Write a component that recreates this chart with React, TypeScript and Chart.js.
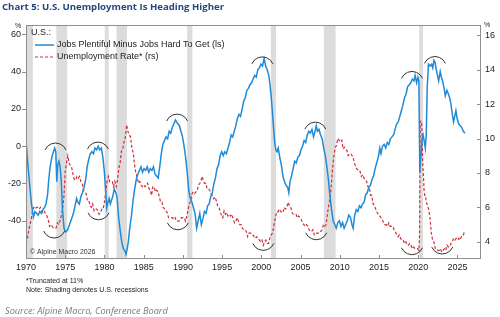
import React, { useEffect, useRef } from "react";
import { Chart, registerables } from "chart.js";

Chart.register(...registerables);

// Labor differential (Conference Board), % – left scale
const blueYears = [
  1970.0, 1970.2, 1970.45, 1970.7, 1970.95, 1971.15, 1971.35, 1971.55, 1971.75, 1971.95,
  1972.15, 1972.35, 1972.55, 1972.75, 1972.9, 1973.05, 1973.2, 1973.35, 1973.5, 1973.65,
  1973.8, 1973.92, 1974.05, 1974.2, 1974.35, 1974.5, 1974.65, 1974.85, 1975.05, 1975.3,
  1975.55, 1975.8, 1976.05, 1976.25, 1976.45, 1976.6, 1976.8, 1977.0, 1977.2, 1977.4,
  1977.6, 1977.8, 1978.0, 1978.2, 1978.4, 1978.6, 1978.8, 1979.0, 1979.2, 1979.4,
  1979.6, 1979.8, 1980.0, 1980.15, 1980.3, 1980.45, 1980.6, 1980.75, 1980.9, 1981.05,
  1981.25, 1981.45, 1981.6, 1981.8, 1982.0, 1982.2, 1982.4, 1982.6, 1982.75, 1982.9,
  1983.05, 1983.25, 1983.45, 1983.65, 1983.85, 1984.05, 1984.25, 1984.45, 1984.65, 1984.85,
  1985.05, 1985.25, 1985.45, 1985.65, 1985.85, 1986.05, 1986.25, 1986.45, 1986.65, 1986.85,
  1987.05, 1987.25, 1987.45, 1987.65, 1987.85, 1988.05, 1988.25, 1988.45, 1988.65, 1988.85,
  1989.05, 1989.2, 1989.35, 1989.55, 1989.75, 1989.95, 1990.15, 1990.35, 1990.55, 1990.75,
  1990.95, 1991.15, 1991.35, 1991.55, 1991.75, 1991.95, 1992.15, 1992.35, 1992.55, 1992.75,
  1992.95, 1993.15, 1993.35, 1993.55, 1993.75, 1993.95, 1994.15, 1994.35, 1994.55, 1994.75,
  1994.95, 1995.15, 1995.35, 1995.55, 1995.75, 1995.95, 1996.15, 1996.35, 1996.55, 1996.75,
  1996.95, 1997.15, 1997.35, 1997.55, 1997.75, 1997.95, 1998.15, 1998.35, 1998.55, 1998.75,
  1998.95, 1999.15, 1999.35, 1999.55, 1999.75, 1999.95, 2000.15, 2000.35, 2000.55, 2000.75,
  2000.95, 2001.1, 2001.25, 2001.4, 2001.55, 2001.7, 2001.85, 2002.0, 2002.15, 2002.35,
  2002.55, 2002.75, 2002.95, 2003.15, 2003.35, 2003.5, 2003.65, 2003.85, 2004.05, 2004.25,
  2004.45, 2004.65, 2004.85, 2005.05, 2005.25, 2005.45, 2005.65, 2005.85, 2006.05, 2006.25,
  2006.45, 2006.65, 2006.85, 2007.0, 2007.15, 2007.35, 2007.55, 2007.75, 2007.95, 2008.15,
  2008.35, 2008.55, 2008.75, 2008.95, 2009.15, 2009.35, 2009.55, 2009.75, 2009.95, 2010.15,
  2010.35, 2010.55, 2010.75, 2010.95, 2011.15, 2011.35, 2011.55, 2011.7, 2011.9, 2012.1,
  2012.3, 2012.5, 2012.7, 2012.9, 2013.1, 2013.3, 2013.5, 2013.7, 2013.9, 2014.1,
  2014.3, 2014.5, 2014.7, 2014.9, 2015.1, 2015.25, 2015.45, 2015.65, 2015.85, 2016.05,
  2016.25, 2016.45, 2016.65, 2016.85, 2017.05, 2017.25, 2017.45, 2017.65, 2017.85, 2018.05,
  2018.25, 2018.45, 2018.65, 2018.85, 2019.05, 2019.25, 2019.45, 2019.6, 2019.8, 2019.95,
  2020.08, 2020.2, 2020.35, 2020.5, 2020.62, 2020.75, 2020.9, 2021.02, 2021.15, 2021.3,
  2021.5, 2021.7, 2021.85, 2022.0, 2022.15, 2022.3, 2022.45, 2022.6, 2022.8, 2022.95,
  2023.1, 2023.3, 2023.45, 2023.65, 2023.85, 2024.0, 2024.15, 2024.35, 2024.5, 2024.65,
  2024.8, 2024.95, 2025.15, 2025.35, 2025.55, 2025.75, 2025.95,
];
const blueValues = [
  3, -8, -20, -31, -38, -35, -36, -37, -35, -36,
  -34, -33, -31, -26, -18, -12, -8, -5, -3, -1,
  -3, -19, -10, -8, -11, -19, -34, -44, -46, -45,
  -42, -39, -36, -32, -28, -30, -31, -27, -25, -22,
  -18, -11, -7, -4, -3, -4, -1, -2, 0, -2,
  -1, -6, -14, -24, -33, -30, -28, -31, -29, -27,
  -23, -25, -27, -38, -45, -51, -55, -56, -58, -55,
  -51, -43, -37, -29, -23, -18, -15, -13, -11, -14,
  -12, -13, -11, -14, -12, -13, -11, -15, -16, -17,
  -11, -4, 1, 3, 5, 4, 8, 7, 10, 12,
  14, 13, 12, 11, 8, 5, 0, -6, -14, -24,
  -28, -30, -33, -36, -44, -40, -36, -42, -39, -35,
  -36, -32, -31, -27, -25, -20, -17, -12, -10, -5,
  -3, -5, -3, -4, -1, 2, 6, 5, 8, 11,
  15, 17, 16, 20, 24, 26, 30, 31, 33, 34,
  36, 38, 37, 41, 42, 44, 43, 47, 43, 41,
  38, 33, 27, 19, 10, 2, -2, -3, -1, -6,
  -10, -16, -19, -21, -22, -25, -19, -16, -12, -8,
  -9, -6, -5, -2, 0, 3, 2, 6, 8, 7,
  9, 5, 8, 11, 8, 9, 6, 4, -1, -5,
  -11, -18, -27, -34, -40, -42, -44, -41, -40, -43,
  -41, -44, -42, -40, -37, -38, -42, -44, -37, -34,
  -35, -32, -33, -31, -30, -26, -25, -22, -21, -18,
  -16, -12, -9, -6, -1, -4, 0, 1, -1, 2,
  1, 4, 5, 6, 9, 12, 13, 16, 19, 22,
  26, 28, 32, 33, 34, 36, 35, 38, 34, 37,
  35, -14, -5, 4, 6, 3, -1, 6, 32, 44,
  43, 44, 42, 46, 45, 41, 38, 35, 40, 37,
  35, 31, 27, 30, 28, 26, 23, 17, 13, 16,
  19, 15, 12, 11, 10, 8, 7,
];

// Unemployment rate, % (truncated at 11%) – right scale
const redYears = [
  1970.0, 1970.17, 1970.33, 1970.5, 1970.67, 1970.83, 1971.0, 1971.17, 1971.33, 1971.5,
  1971.67, 1971.83, 1972.0, 1972.17, 1972.33, 1972.5, 1972.67, 1972.83, 1973.0, 1973.17,
  1973.33, 1973.5, 1973.67, 1973.83, 1974.0, 1974.17, 1974.33, 1974.5, 1974.67, 1974.83,
  1975.0, 1975.17, 1975.33, 1975.5, 1975.67, 1975.83, 1976.0, 1976.17, 1976.33, 1976.5,
  1976.67, 1976.83, 1977.0, 1977.17, 1977.33, 1977.5, 1977.67, 1977.83, 1978.0, 1978.17,
  1978.33, 1978.5, 1978.67, 1978.83, 1979.0, 1979.17, 1979.33, 1979.5, 1979.67, 1979.83,
  1980.0, 1980.17, 1980.33, 1980.5, 1980.67, 1980.83, 1981.0, 1981.17, 1981.33, 1981.5,
  1981.67, 1981.83, 1982.0, 1982.17, 1982.33, 1982.5, 1982.67, 1982.83, 1983.0, 1983.17,
  1983.33, 1983.5, 1983.67, 1983.83, 1984.0, 1984.17, 1984.33, 1984.5, 1984.67, 1984.83,
  1985.0, 1985.17, 1985.33, 1985.5, 1985.67, 1985.83, 1986.0, 1986.17, 1986.33, 1986.5,
  1986.67, 1986.83, 1987.0, 1987.17, 1987.33, 1987.5, 1987.67, 1987.83, 1988.0, 1988.17,
  1988.33, 1988.5, 1988.67, 1988.83, 1989.0, 1989.17, 1989.33, 1989.5, 1989.67, 1989.83,
  1990.0, 1990.17, 1990.33, 1990.5, 1990.67, 1990.83, 1991.0, 1991.17, 1991.33, 1991.5,
  1991.67, 1991.83, 1992.0, 1992.17, 1992.33, 1992.45, 1992.58, 1992.75, 1992.92, 1993.08,
  1993.25, 1993.42, 1993.58, 1993.75, 1993.92, 1994.08, 1994.25, 1994.42, 1994.58, 1994.75,
  1994.92, 1995.08, 1995.25, 1995.42, 1995.58, 1995.75, 1995.92, 1996.08, 1996.25, 1996.42,
  1996.58, 1996.75, 1996.92, 1997.08, 1997.25, 1997.42, 1997.58, 1997.75, 1997.92, 1998.08,
  1998.25, 1998.42, 1998.58, 1998.75, 1998.92, 1999.08, 1999.25, 1999.42, 1999.58, 1999.75,
  1999.92, 2000.08, 2000.25, 2000.42, 2000.58, 2000.75, 2000.92, 2001.08, 2001.25, 2001.42,
  2001.58, 2001.75, 2001.92, 2002.08, 2002.25, 2002.42, 2002.58, 2002.75, 2002.92, 2003.08,
  2003.25, 2003.42, 2003.58, 2003.75, 2003.92, 2004.08, 2004.25, 2004.42, 2004.58, 2004.75,
  2004.92, 2005.08, 2005.25, 2005.42, 2005.58, 2005.75, 2005.92, 2006.08, 2006.25, 2006.42,
  2006.58, 2006.75, 2006.92, 2007.08, 2007.25, 2007.42, 2007.58, 2007.75, 2007.92, 2008.08,
  2008.25, 2008.42, 2008.58, 2008.75, 2008.92, 2009.08, 2009.25, 2009.42, 2009.58, 2009.75,
  2009.92, 2010.08, 2010.25, 2010.42, 2010.58, 2010.75, 2010.92, 2011.08, 2011.25, 2011.42,
  2011.58, 2011.75, 2011.92, 2012.08, 2012.25, 2012.42, 2012.58, 2012.75, 2012.92, 2013.08,
  2013.25, 2013.42, 2013.58, 2013.75, 2013.92, 2014.08, 2014.25, 2014.42, 2014.58, 2014.75,
  2014.92, 2015.08, 2015.25, 2015.42, 2015.58, 2015.75, 2015.92, 2016.08, 2016.25, 2016.42,
  2016.58, 2016.75, 2016.92, 2017.08, 2017.25, 2017.42, 2017.58, 2017.75, 2017.92, 2018.08,
  2018.25, 2018.42, 2018.58, 2018.75, 2018.92, 2019.08, 2019.25, 2019.42, 2019.58, 2019.75,
  2019.92, 2020.08, 2020.17, 2020.25, 2020.33, 2020.42, 2020.5, 2020.58, 2020.67, 2020.75,
  2020.83, 2020.92, 2021.0, 2021.17, 2021.33, 2021.5, 2021.67, 2021.83, 2022.0, 2022.17,
  2022.33, 2022.5, 2022.67, 2022.83, 2023.0, 2023.17, 2023.33, 2023.5, 2023.67, 2023.83,
  2024.0, 2024.17, 2024.33, 2024.5, 2024.67, 2024.83, 2025.0, 2025.17, 2025.33, 2025.5,
  2025.67, 2025.83, 2025.95,
];
const redValues = [
  3.9, 4.2, 4.6, 5.0, 5.3, 5.8, 6.0, 5.9, 6.0, 6.0,
  5.9, 6.0, 5.8, 5.7, 5.8, 5.6, 5.5, 5.3, 4.9, 5.0,
  4.9, 4.8, 4.8, 4.8, 5.1, 5.0, 5.2, 5.5, 5.9, 6.6,
  8.1, 8.6, 9.0, 8.6, 8.4, 8.3, 7.9, 7.6, 7.6, 7.8,
  7.7, 7.8, 7.5, 7.4, 7.0, 6.9, 6.8, 6.4, 6.4, 6.1,
  6.0, 6.2, 5.8, 5.9, 5.9, 5.8, 5.6, 5.7, 5.9, 5.9,
  6.3, 6.9, 7.5, 7.8, 7.5, 7.5, 7.5, 7.2, 7.5, 7.2,
  7.6, 8.3, 8.6, 9.3, 9.4, 9.8, 10.1, 10.8, 10.4, 10.2,
  10.1, 9.4, 9.2, 8.5, 8.0, 7.8, 7.4, 7.5, 7.3, 7.2,
  7.3, 7.2, 7.3, 7.4, 7.1, 7.0, 6.7, 7.2, 7.2, 6.9,
  7.0, 6.9, 6.6, 6.3, 6.3, 6.0, 5.9, 5.8, 5.7, 5.4,
  5.4, 5.4, 5.4, 5.3, 5.4, 5.2, 5.2, 5.2, 5.3, 5.4,
  5.4, 5.4, 5.2, 5.5, 5.9, 6.2, 6.4, 6.8, 6.9, 6.8,
  6.9, 7.0, 7.3, 7.4, 7.6, 7.8, 7.6, 7.4, 7.4, 7.1,
  7.1, 7.0, 6.8, 6.7, 6.5, 6.6, 6.4, 6.1, 6.0, 5.8,
  5.5, 5.4, 5.8, 5.6, 5.7, 5.5, 5.6, 5.5, 5.6, 5.3,
  5.1, 5.2, 5.4, 5.2, 5.0, 5.0, 4.8, 4.7, 4.7, 4.6,
  4.3, 4.5, 4.5, 4.5, 4.4, 4.3, 4.2, 4.3, 4.2, 4.1,
  4.0, 4.1, 3.8, 4.0, 4.1, 3.9, 3.9, 4.2, 4.4, 4.5,
  4.9, 5.3, 5.7, 5.7, 5.9, 5.8, 5.7, 5.7, 6.0, 5.9,
  6.0, 6.3, 6.1, 6.0, 5.7, 5.6, 5.6, 5.6, 5.4, 5.5,
  5.4, 5.3, 5.1, 5.0, 4.9, 5.0, 4.9, 4.7, 4.6, 4.6,
  4.7, 4.4, 4.4, 4.5, 4.5, 4.6, 4.6, 4.7, 5.0, 4.9,
  5.0, 5.6, 6.1, 6.5, 7.3, 8.3, 9.0, 9.5, 9.6, 10.0,
  9.9, 9.8, 9.9, 9.4, 9.5, 9.4, 9.3, 9.0, 9.1, 9.1,
  9.0, 8.8, 8.5, 8.3, 8.2, 8.2, 8.1, 7.8, 7.9, 7.7,
  7.6, 7.5, 7.2, 7.2, 6.7, 6.7, 6.2, 6.1, 5.9, 5.7,
  5.6, 5.5, 5.4, 5.3, 5.1, 5.0, 5.0, 4.9, 5.1, 4.9,
  4.9, 4.9, 4.7, 4.6, 4.4, 4.3, 4.4, 4.2, 4.1, 4.1,
  3.9, 4.0, 3.8, 3.8, 3.9, 3.8, 3.6, 3.7, 3.6, 3.6,
  3.6, 3.5, 4.4, 11.0, 11.0, 11.0, 10.2, 8.4, 7.8, 6.9,
  6.7, 6.7, 6.4, 6.1, 5.9, 5.4, 4.5, 4.1, 4.0, 3.6,
  3.6, 3.5, 3.5, 3.6, 3.4, 3.5, 3.6, 3.5, 3.8, 3.7,
  3.7, 3.9, 4.0, 4.2, 4.1, 4.2, 4.1, 4.2, 4.1, 4.3,
  4.3, 4.5, 4.4,
];

// U.S. recessions (shaded)
const recessionStarts = [1969.92, 1973.87, 1980.04, 1981.54, 1990.54, 2001.21, 2007.96, 2020.12];
const recessionEnds = [1970.87, 1975.25, 1980.54, 1982.87, 1991.21, 2001.87, 2009.46, 2020.62];

// Axis ticks
const xTickYears = [1970, 1975, 1980, 1985, 1990, 1995, 2000, 2005, 2010, 2015, 2020, 2025];
const leftTicks = [-40, -20, 0, 20, 40, 60];
const rightTicks = [4, 6, 8, 10, 12, 14, 16];

// Circled turning points: peaks of the differential, troughs of the jobless rate
const peakArcYears = [1973.76, 1979.17, 1989.26, 2000.13, 2006.88, 2019.2, 2022.13];
const peakArcValues = [1.7, 2.2, 17.2, 47.9, 12.9, 40.1, 48.1];
const troughArcYears = [1973.59, 1979.24, 1989.36, 2000.25, 2007.0, 2019.2, 2023.06];
const troughArcValues = [4.22, 5.28, 4.7, 3.5, 4.12, 3.25, 3.29];

const BLUE = "#1f8ad6";
const RED = "#d12f3a";
const SHADE = "#dcdcdc";
const FRAME = "#8f8f8f";
const TEXT = "#222222";
const SANS = '"Liberation Sans", Arial, sans-serif';

const ARC_R = 11.4;
const ARC_HALF = (67 * Math.PI) / 180;

const decorations = {
  id: "decorations",
  beforeDatasetsDraw(chart: any) {
    const { ctx, chartArea: a, scales } = chart;
    const x = scales.x;
    ctx.save();
    ctx.fillStyle = SHADE;
    recessionStarts.forEach((s, i) => {
      const x0 = Math.max(a.left, x.getPixelForValue(s));
      const x1 = Math.min(a.right, x.getPixelForValue(recessionEnds[i]));
      ctx.fillRect(x0, a.top, x1 - x0, a.bottom - a.top);
    });
    ctx.restore();
  },
  afterDatasetsDraw(chart: any) {
    const { ctx, chartArea: a, scales } = chart;
    const x = scales.x;
    const yL = scales.yL;
    const yR = scales.yR;
    ctx.save();

    // arcs around turning points
    ctx.strokeStyle = "#333";
    ctx.lineWidth = 1;
    peakArcYears.forEach((yr, i) => {
      const cx = x.getPixelForValue(yr);
      const cy = yL.getPixelForValue(peakArcValues[i]) + ARC_R;
      ctx.beginPath();
      ctx.arc(cx, cy, ARC_R, -Math.PI / 2 - ARC_HALF, -Math.PI / 2 + ARC_HALF);
      ctx.stroke();
    });
    troughArcYears.forEach((yr, i) => {
      const cx = x.getPixelForValue(yr);
      const cy = yR.getPixelForValue(troughArcValues[i]) - ARC_R;
      ctx.beginPath();
      ctx.arc(cx, cy, ARC_R, Math.PI / 2 - ARC_HALF, Math.PI / 2 + ARC_HALF);
      ctx.stroke();
    });

    // frame and tick marks
    ctx.strokeStyle = FRAME;
    ctx.lineWidth = 1;
    ctx.strokeRect(a.left + 0.5, a.top + 0.5, a.right - a.left - 1, a.bottom - a.top - 1);
    ctx.beginPath();
    leftTicks.forEach((v) => {
      const y = Math.round(yL.getPixelForValue(v)) + 0.5;
      ctx.moveTo(a.left - 4, y);
      ctx.lineTo(a.left, y);
    });
    rightTicks.forEach((v) => {
      const y = Math.round(yR.getPixelForValue(v)) + 0.5;
      ctx.moveTo(a.right - 4, y);
      ctx.lineTo(a.right, y);
    });
    xTickYears.forEach((v) => {
      const px = Math.round(x.getPixelForValue(v)) + 0.5;
      ctx.moveTo(px, a.bottom);
      ctx.lineTo(px, a.bottom - 4);
    });
    ctx.stroke();

    // legend
    ctx.fillStyle = TEXT;
    ctx.textBaseline = "middle";
    ctx.textAlign = "left";
    ctx.font = `9px ${SANS}`;
    ctx.fillText("U.S.:", a.left + 5, a.top + 8);
    ctx.lineWidth = 1.5;
    ctx.strokeStyle = BLUE;
    ctx.beginPath();
    ctx.moveTo(a.left + 9, a.top + 20);
    ctx.lineTo(a.left + 28, a.top + 20);
    ctx.stroke();
    ctx.fillText("Jobs Plentiful Minus Jobs Hard To Get (ls)", a.left + 31, a.top + 20);
    ctx.lineWidth = 1.2;
    ctx.strokeStyle = RED;
    ctx.setLineDash([3, 2]);
    ctx.beginPath();
    ctx.moveTo(a.left + 9, a.top + 32);
    ctx.lineTo(a.left + 28, a.top + 32);
    ctx.stroke();
    ctx.setLineDash([]);
    ctx.fillText("Unemployment Rate* (rs)", a.left + 31, a.top + 32);

    // unit markers and credit
    ctx.font = `7px ${SANS}`;
    ctx.textAlign = "center";
    ctx.fillText("%", 18, a.top + 1);
    ctx.fillText("%", 487, a.top);
    ctx.textAlign = "left";
    ctx.fillStyle = "#333";
    ctx.fillText("\u00A9 Alpine Macro 2026", a.left + 4, a.bottom - 7);
    ctx.restore();
  },
};

export default function App() {
  const canvasRef = useRef<HTMLCanvasElement>(null);

  useEffect(() => {
    const canvas = canvasRef.current;
    if (!canvas) return;
    Chart.defaults.font.family = SANS;
    const tickFont = { size: 9, family: SANS };
    const chart = new Chart(canvas, {
      type: "line",
      data: {
        datasets: [
          {
            label: "Jobs Plentiful Minus Jobs Hard To Get (ls)",
            data: blueYears.map((yr, i) => ({ x: yr, y: blueValues[i] })),
            yAxisID: "yL",
            borderColor: BLUE,
            borderWidth: 1.5,
            pointRadius: 0,
            tension: 0,
          },
          {
            label: "Unemployment Rate* (rs)",
            data: redYears.map((yr, i) => ({ x: yr, y: redValues[i] })),
            yAxisID: "yR",
            borderColor: RED,
            borderWidth: 1.2,
            borderDash: [3, 2],
            pointRadius: 0,
            tension: 0,
          },
        ],
      },
      options: {
        responsive: false,
        animation: false,
        events: [],
        layout: { padding: { top: 25, left: 0, right: 0, bottom: 0 } },
        plugins: { legend: { display: false }, tooltip: { enabled: false } },
        scales: {
          x: {
            type: "linear",
            min: 1970,
            max: 2028,
            grid: { display: false, drawTicks: false },
            border: { display: false },
            afterFit: (s: any) => {
              s.height = 58;
            },
            afterBuildTicks: (s: any) => {
              s.ticks = xTickYears.map((v) => ({ value: v }));
            },
            ticks: {
              padding: 3,
              color: TEXT,
              font: tickFont,
              maxRotation: 0,
              autoSkip: false,
              callback: (v: any) => String(v),
            },
          },
          yL: {
            type: "linear",
            position: "left",
            min: -60.5,
            max: 65,
            grid: { display: false, drawTicks: false },
            border: { display: false },
            afterFit: (s: any) => {
              s.width = 26;
            },
            afterBuildTicks: (s: any) => {
              s.ticks = leftTicks.map((v) => ({ value: v }));
            },
            ticks: { padding: 5, color: TEXT, font: tickFont, callback: (v: any) => String(v) },
          },
          yR: {
            type: "linear",
            position: "right",
            min: 3,
            max: 16.6,
            grid: { display: false, drawTicks: false },
            border: { display: false },
            afterFit: (s: any) => {
              s.width = 19;
            },
            afterBuildTicks: (s: any) => {
              s.ticks = rightTicks.map((v) => ({ value: v }));
            },
            ticks: { padding: 4, color: TEXT, font: tickFont, callback: (v: any) => String(v) },
          },
        },
      },
      plugins: [decorations],
    });
    return () => chart.destroy();
  }, []);

  const note: React.CSSProperties = {
    position: "absolute",
    left: 26,
    font: `7px ${SANS}`,
    lineHeight: "9px",
    color: TEXT,
    whiteSpace: "nowrap",
  };

  return (
    <div
      style={{
        position: "absolute",
        left: 0,
        top: 0,
        width: 500,
        height: 317,
        background: "#ffffff",
        overflow: "hidden",
      }}
    >
      <canvas
        ref={canvasRef}
        width={500}
        height={317}
        style={{ position: "absolute", left: 0, top: 0, width: 500, height: 317 }}
      />
      <div
        style={{
          position: "absolute",
          left: 2,
          top: 0,
          font: '700 9.6px "Open Sans", sans-serif',
          lineHeight: "14px",
          color: "#24487e",
          whiteSpace: "nowrap",
        }}
      >
        Chart 5: U.S. Unemployment Is Heading Higher
      </div>
      <div style={{ ...note, top: 275.5 }}>*Truncated at 11%</div>
      <div style={{ ...note, top: 284.5 }}>Note: Shading denotes U.S. recessions</div>
      <div
        style={{
          position: "absolute",
          left: 5,
          top: 304,
          font: 'italic 9.2px "Open Sans", sans-serif',
          lineHeight: "13px",
          color: "#7a7a7a",
          whiteSpace: "nowrap",
        }}
      >
        Source: Alpine Macro, Conference Board
      </div>
    </div>
  );
}
